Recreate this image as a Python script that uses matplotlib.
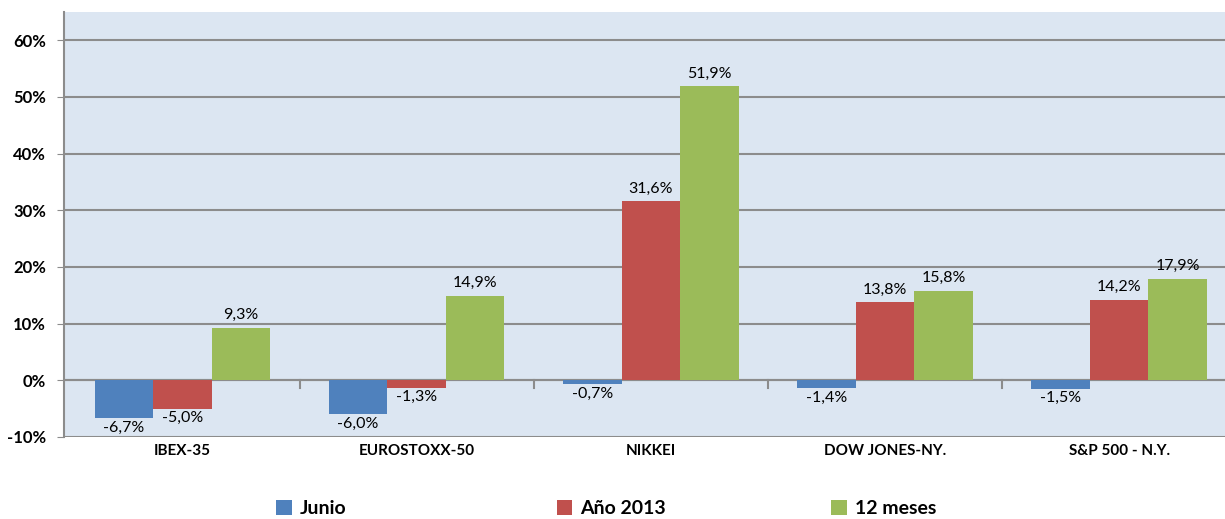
import matplotlib.pyplot as plt
import numpy as np

plt.rcParams['font.family'] = ['Lato', 'DejaVu Sans']

indices = ['IBEX-35', 'EUROSTOXX-50', 'NIKKEI', 'DOW JONES-NY.', 'S&P 500 - N.Y.']
junio = [-6.7, -5.98, -0.7, -1.4, -1.5]
anio_2013 = [-5.0, -1.3, 31.6, 13.8, 14.2]
doce_meses = [9.3, 14.9, 51.9, 15.8, 17.9]
series_names = ['Junio', 'Año 2013', '12 meses']
colors = ['#4F81BD', '#C0504D', '#9BBB59']

fig = plt.figure(figsize=(12.25, 5.19), dpi=100)
ax = fig.add_axes([0.0522, 0.158, 0.957, 0.819])
ax.set_facecolor('#DCE6F2')

x = np.arange(len(indices))
width = 0.25
handles = []
for i, (vals, name, col) in enumerate(zip([junio, anio_2013, doce_meses], series_names, colors)):
    pos = x + (i - 1) * width
    bars = ax.bar(pos, vals, width, color=col, label=name, zorder=3)
    handles.append(bars)
    for b, v in zip(bars, vals):
        txt = ('%.1f%%' % v).replace('.', ',')
        if v >= 0:
            ax.text(b.get_x() + width / 2, v + 1.0, txt, ha='center', va='bottom', fontsize=11.5, zorder=4)
        else:
            ax.text(b.get_x() + width / 2, v - 0.4, txt, ha='center', va='top', fontsize=11.5, zorder=4)

ax.set_xlim(-0.506, len(indices) - 0.5)
ax.set_ylim(-10, 65)
ax.set_yticks(np.arange(-10, 61, 10))
ax.set_yticklabels(['%d%%' % t for t in np.arange(-10, 61, 10)], fontsize=12, fontweight='bold')
ax.yaxis.grid(True, color='#8C8C8C', lw=1.5, zorder=1)
ax.axhline(0, color='#8C8C8C', lw=1.5, zorder=2)
ax.tick_params(axis='y', length=5, color='#8C8C8C', pad=8)

# category labels below plot, ticks at category boundaries on the zero line
ax.set_xticks([])
for xi, name in zip(x, indices):
    ax.text(xi, -11.2, name, ha='center', va='top', fontsize=11, fontweight='bold')
for b in np.arange(0.5, len(indices) - 0.5, 1):
    ax.plot([b, b], [0, -1.3], color='#8C8C8C', lw=1.5, zorder=2)

for side in ['top', 'right', 'bottom']:
    ax.spines[side].set_visible(False)
ax.spines['left'].set_color('#8C8C8C')
ax.spines['left'].set_linewidth(1.5)

# legend entries in equal-width columns, like the original
for h, name, xl in zip(handles, series_names, [0.216, 0.445, 0.669]):
    leg = fig.legend([h], [name], loc='center left', bbox_to_anchor=(xl, 0.02), frameon=False,
                     prop={'size': 14, 'weight': 'bold'}, handlelength=0.8, handleheight=0.8,
                     handletextpad=0.4, borderpad=0.1)

fig.savefig('out.png', dpi=100)
